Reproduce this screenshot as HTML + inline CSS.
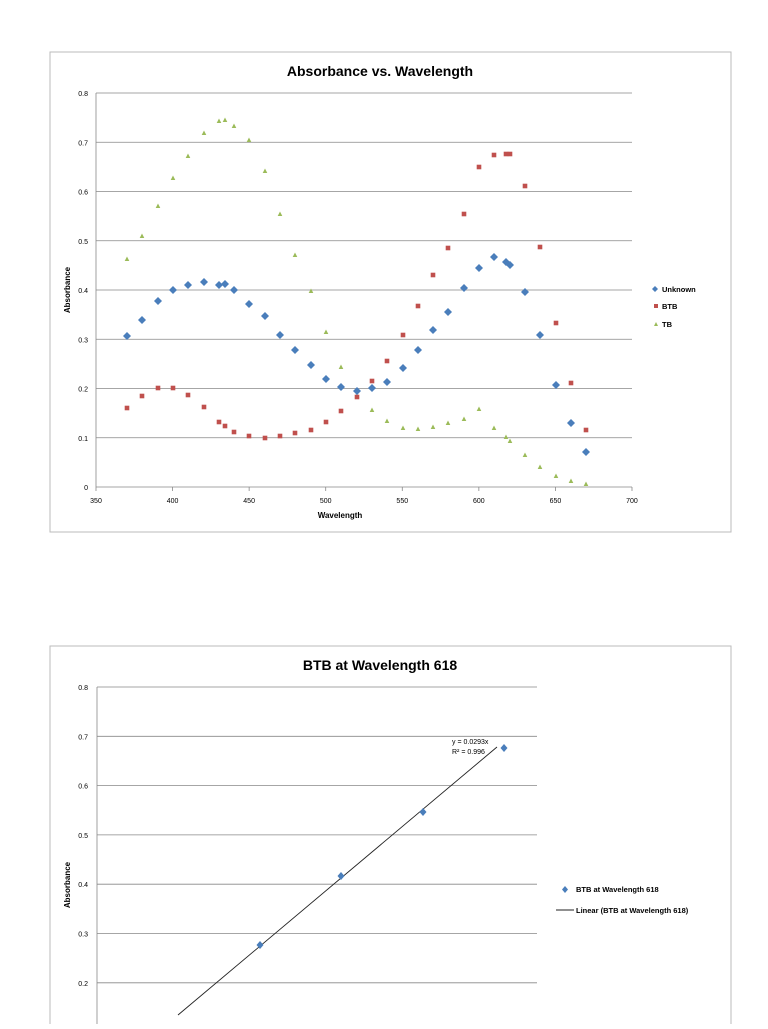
<!DOCTYPE html>
<html><head><meta charset="utf-8"><style>
body{margin:0;background:#fff;width:768px;height:1024px;overflow:hidden;font-family:"Liberation Sans",sans-serif}
svg text{font-family:"Liberation Sans",sans-serif}
</style></head><body>
<svg width="768" height="1024" viewBox="0 0 768 1024" xmlns="http://www.w3.org/2000/svg">
<rect x="50" y="52" width="681" height="480" fill="#fff" stroke="#bbb"/>
<text x="380" y="76" font-size="14" font-weight="bold" text-anchor="middle">Absorbance vs. Wavelength</text>
<g id="g1" stroke="#888" stroke-width="0.8"></g>
<g id="t1" font-size="7" fill="#000"></g>
<text x="340" y="518" font-size="8" font-weight="bold" text-anchor="middle">Wavelength</text>
<text transform="translate(70,290) rotate(-90)" font-size="8" font-weight="bold" text-anchor="middle">Absorbance</text>
<g id="pts"></g>
<path d="M655,286 l3,3 -3,3 -3,-3z" fill="#4a7ebb"/>
<text x="662" y="292" font-size="7.5" font-weight="bold">Unknown</text>
<rect x="654" y="304" width="4" height="4" fill="#c0504d"/>
<text x="662" y="309" font-size="7.5" font-weight="bold">BTB</text>
<path d="M656,322 l2,4 -4,0z" fill="#9bbb59"/>
<text x="662" y="327" font-size="7.5" font-weight="bold">TB</text>

<rect x="50" y="646" width="681" height="400" fill="#fff" stroke="#bbb"/>
<text x="380" y="670" font-size="14" font-weight="bold" text-anchor="middle">BTB at Wavelength 618</text>
<g id="g2" stroke="#888" stroke-width="0.8"></g>
<g id="t2" font-size="7"></g>
<text transform="translate(70,885) rotate(-90)" font-size="8" font-weight="bold" text-anchor="middle">Absorbance</text>
<line x1="178" y1="1015" x2="497" y2="747" stroke="#222" stroke-width="0.9"/>
<text x="452" y="744" font-size="7">y = 0.0293x</text>
<text x="452" y="754" font-size="7">R² = 0.996</text>
<g id="pts2"></g>
<path d="M565,886 l3,3.5 -3,3.5 -3,-3.5z" fill="#4a7ebb"/>
<text x="576" y="892" font-size="7.5" font-weight="bold">BTB at Wavelength 618</text>
<line x1="556" y1="910" x2="574" y2="910" stroke="#222"/>
<text x="576" y="913" font-size="7.5" font-weight="bold">Linear (BTB at Wavelength 618)</text>
</svg>
<script>
var NS="http://www.w3.org/2000/svg";
function el(p,t,a,txt){var e=document.createElementNS(NS,t);for(var k in a)e.setAttribute(k,a[k]);if(txt!=null)e.textContent=txt;document.getElementById(p).appendChild(e);return e;}
for(var i=0;i<=8;i++){var y=487-i*49.25;el('g1','line',{x1:96,x2:632,y1:y,y2:y});el('t1','text',{x:88,y:y+3,'text-anchor':'end'},i==0?'0':(i/10).toFixed(1));}
el('g1','line',{x1:96,x2:96,y1:93,y2:487});
for(var w=350;w<=700;w+=50){var x=96+(w-350)*1.5314;el('t1','text',{x:x,y:503,'text-anchor':'middle'},w);el('g1','line',{x1:x,x2:x,y1:487,y2:491});}
var U=[[127,336],[142,320],[158,301],[173,290],[188,285],[204,282],[219,285],[225,284],[234,290],[249,304],[265,316],[280,335],[295,350],[311,365],[326,379],[341,387],[357,391],[372,388],[387,382],[403,368],[418,350],[433,330],[448,312],[464,288],[479,268],[494,257],[506,262],[510,265],[525,292],[540,335],[556,385],[571,423],[586,452]];
var B=[[127,408],[142,396],[158,388],[173,388],[188,395],[204,407],[219,422],[225,426],[234,432],[249,436],[265,438],[280,436],[295,433],[311,430],[326,422],[341,411],[357,397],[372,381],[387,361],[403,335],[418,306],[433,275],[448,248],[464,214],[479,167],[494,155],[506,154],[510,154],[525,186],[540,247],[556,323],[571,383],[586,430]];
var T=[[127,259],[142,236],[158,206],[173,178],[188,156],[204,133],[219,121],[225,120],[234,126],[249,140],[265,171],[280,214],[295,255],[311,291],[326,332],[341,367],[357,396],[372,410],[387,421],[403,428],[418,429],[433,427],[448,423],[464,419],[479,409],[494,428],[506,437],[510,441],[525,455],[540,467],[556,476],[571,481],[586,484]];
T.forEach(function(p){el('pts','path',{d:'M'+p[0]+','+(p[1]-2.5)+' l2.3,4.5 -4.6,0z',fill:'#9bbb59'});});
B.forEach(function(p){el('pts','rect',{x:p[0]-2.3,y:p[1]-2.3,width:4.6,height:4.6,fill:'#c0504d'});});
U.forEach(function(p){el('pts','path',{d:'M'+p[0]+','+(p[1]-4)+' l4,4 -4,4 -4,-4z',fill:'#4a7ebb'});});
for(var i=1;i<=8;i++){var y=687+(8-i)*49.3;el('g2','line',{x1:97,x2:537,y1:y,y2:y});el('t2','text',{x:88,y:y+3,'text-anchor':'end'},(i/10).toFixed(1));}
el('g2','line',{x1:97,x2:97,y1:687,y2:1030});
[[260,945],[341,876],[423,812],[504,748]].forEach(function(p){el('pts2','path',{d:'M'+p[0]+','+(p[1]-4)+' l3.5,4 -3.5,4 -3.5,-4z',fill:'#4a7ebb'});});
</script>
</body></html>
